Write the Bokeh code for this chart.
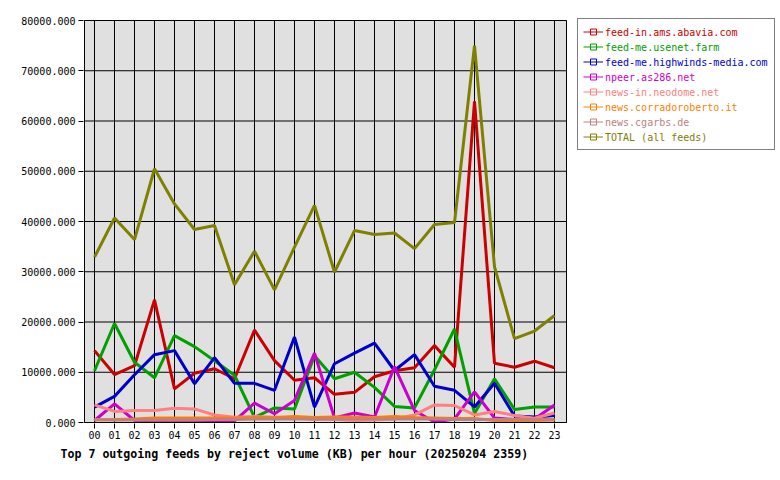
from bokeh.plotting import figure
from bokeh.models import (Range1d, FixedTicker, PrintfTickFormatter, Legend, LegendItem,
                          Title, ColumnDataSource)
from bokeh.embed import file_html
from bokeh.resources import INLINE

hours = list(range(24))
hour_labels = ["%02d" % h for h in hours]

names = ["feed-in.ams.abavia.com", "feed-me.usenet.farm", "feed-me.highwinds-media.com",
         "npeer.as286.net", "news-in.neodome.net", "news.corradoroberto.it",
         "news.cgarbs.de", "TOTAL (all feeds)"]
colors = ["#cc0000", "#00a000", "#0000cc", "#cc00cc", "#ff8080", "#ff8000", "#c08080", "#808000"]

abavia = [14300, 9550, 11300, 24400, 6700, 9800, 10700, 8700, 18400, 12300, 8400, 8900,
          5600, 6000, 9100, 10300, 10900, 15300, 11000, 63900, 11800, 11000, 12200, 10900]
usenet = [10300, 19700, 12000, 8900, 17300, 15100, 12300, 9400, 1000, 2900, 2700, 13300,
          8700, 10000, 7000, 3200, 2900, 10500, 18600, 1800, 8700, 2600, 3100, 3100]
highwinds = [3050, 5200, 9500, 13500, 14300, 7700, 12900, 7800, 7800, 6400, 17000, 3050,
             11700, 13800, 15800, 10350, 13500, 7200, 6400, 3100, 7800, 1300, 1100, 1400]
npeer = [400, 3700, 400, 200, 200, 200, 200, 300, 3850, 1750, 4400, 13800,
         900, 1900, 1100, 11100, 2400, 100, 700, 6100, 900, 600, 700, 3500]
neodome = [3500, 2200, 2400, 2400, 2850, 2700, 1500, 1060, 1200, 1060, 900, 600,
           600, 400, 500, 700, 1500, 3500, 3380, 1500, 2200, 1400, 860, 1900]
corrado = [500, 600, 700, 900, 900, 900, 900, 900, 1000, 1000, 1200, 1000,
           1100, 1100, 1000, 1200, 1000, 900, 800, 800, 400, 300, 400, 500]
cgarbs = [600, 500, 500, 500, 500, 500, 600, 600, 700, 700, 700, 700,
          700, 700, 700, 700, 700, 700, 600, 600, 600, 600, 600, 600]
total = [32900, 40700, 36400, 50500, 43500, 38400, 39200, 27400, 34100, 26400, 34900, 43200,
         29900, 38200, 37400, 37700, 34600, 39400, 39800, 75000, 31000, 16700, 18200, 21300]

series = [abavia, usenet, highwinds, npeer, neodome, corrado, cgarbs, total]
y_ticks = list(range(0, 80001, 10000))
title_text = "Top 7 outgoing feeds by reject volume (KB) per hour (20250204 2359)"

MONO = "DejaVu Sans Mono"

X_LO, X_HI = -0.5, 23.6
Y_LO, Y_HI = 0, 80000
PX_X = 1 / 20.0
PX_Y = 80000 / 402.0
OFF = -1e9  # off-screen position for legend-only glyphs

p = figure(width=780, height=480, output_backend="svg", toolbar_location=None,
           x_range=Range1d(X_LO - 1 * PX_X, X_LO - 1 * PX_X + 696 * PX_X),
           y_range=Range1d(Y_LO - 1 * PX_Y, Y_HI + 2 * PX_Y),
           min_border_left=83, min_border_right=1, min_border_top=18, min_border_bottom=57)
p.border_fill_color = "white"
p.background_fill_color = "white"
p.outline_line_color = None
p.xgrid.grid_line_color = None
p.ygrid.grid_line_color = None

p.quad(left=[X_LO], right=[X_HI], bottom=[Y_LO], top=[Y_HI], fill_color="#e0e0e0",
       line_color=None)
p.segment(x0=hours, x1=hours, y0=[Y_LO] * len(hours), y1=[Y_HI] * len(hours),
          line_color="black", line_width=1)
p.segment(x0=[X_LO] * len(y_ticks), x1=[X_HI] * len(y_ticks), y0=y_ticks, y1=y_ticks,
          line_color="black", line_width=1)

p.xaxis.ticker = FixedTicker(ticks=hours)
p.xaxis.major_label_overrides = {h: lbl for h, lbl in zip(hours, hour_labels)}
p.yaxis.ticker = FixedTicker(ticks=y_ticks)
p.yaxis.formatter = PrintfTickFormatter(format="%.3f")
for ax in (p.xaxis[0], p.yaxis[0]):
    ax.axis_line_color = None
    ax.major_tick_line_color = "black"
    ax.major_tick_out = 5
    ax.major_tick_in = 0
    ax.minor_tick_line_color = None
    ax.major_label_text_font = MONO
    ax.major_label_text_font_size = "10px"
    ax.major_label_text_color = "black"
p.xaxis.major_label_standoff = 2
p.yaxis.major_label_standoff = 3

glyphs = []
for name, col, vals in zip(names, colors, series):
    src = ColumnDataSource(dict(x=hours, y=vals))
    p.line("x", "y", source=src, line_color=col, line_width=3)
    # legend-only glyphs placed off-screen: thin line + small hollow square
    thin = p.line(x=[OFF, OFF], y=[OFF, OFF], line_color=col, line_width=1)
    m = p.scatter(x=[OFF], y=[OFF], marker="square", size=4, line_color=col,
                  fill_color=None, line_width=1)
    glyphs.append((thin, m))

p.quad(left=[X_LO], right=[X_HI], bottom=[Y_LO], top=[Y_HI], fill_color=None,
       line_color="black", line_width=1)

ROW = 15
PAD = 5
n_items = len(names)
box_h = n_items * ROW + 2 * PAD
single_h = ROW + 2 * PAD
LEG_TOP = 403
LX = 494

common = dict(glyph_width=20, glyph_height=ROW, label_height=ROW, spacing=0, padding=PAD,
              label_standoff=3, margin=0, label_text_font=MONO, label_text_font_size="10px")
box = Legend(items=[LegendItem(label=n, renderers=[r, m]) for n, (r, m) in zip(names, glyphs)],
             location=(LX, LEG_TOP - box_h), border_line_color="black", border_line_width=1,
             background_fill_color="white", background_fill_alpha=1,
             label_text_alpha=0, **common)
p.add_layout(box, "center")

for i, (n, col) in enumerate(zip(names, colors)):
    dummy = p.line(x=[OFF, OFF], y=[OFF, OFF], line_alpha=0)
    lg = Legend(items=[LegendItem(label=n, renderers=[dummy])],
                location=(LX, LEG_TOP - single_h - i * ROW), border_line_alpha=0,
                background_fill_alpha=0, label_text_color=col, **common)
    p.add_layout(lg, "center")

t = Title(text=title_text, align="left", offset=-23, standoff=7, text_font=MONO,
          text_font_size="11.6px", text_font_style="bold", text_color="black")
p.add_layout(t, "below")

open("out.html", "w").write(file_html(p, INLINE))
